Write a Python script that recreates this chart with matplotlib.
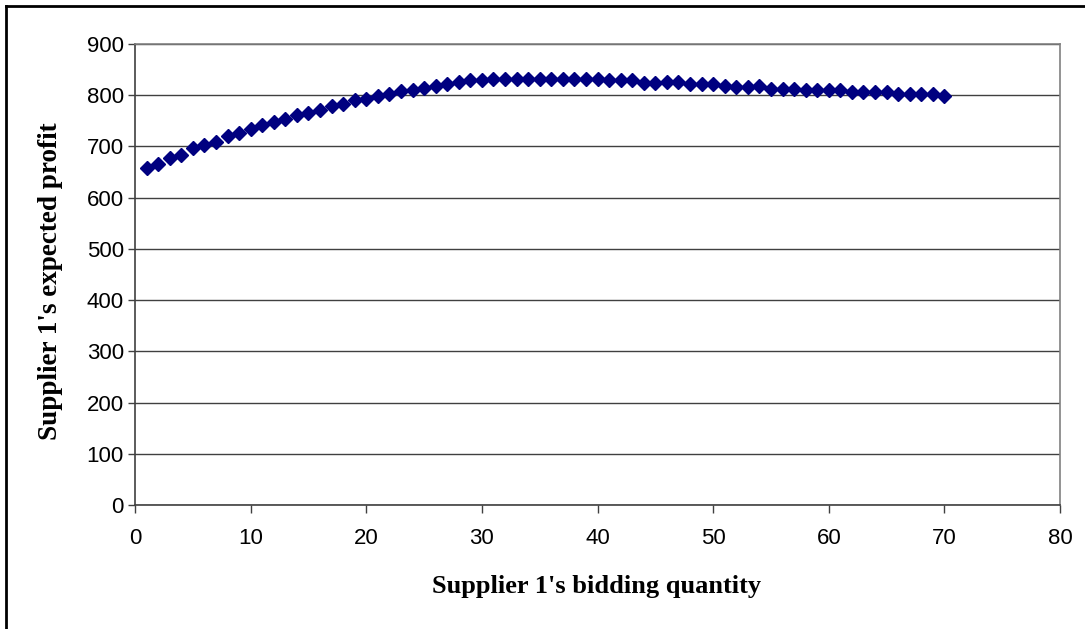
import matplotlib
matplotlib.use("Agg")
import matplotlib.pyplot as plt
from matplotlib.lines import Line2D

quantity = list(range(1, 71))
profit = [658, 666, 677, 684, 696, 702, 708, 720, 726, 734,
          741, 748, 754, 761, 765, 772, 778, 782, 790, 793,
          798, 803, 808, 810, 814, 818, 822, 826, 829, 829,
          832, 832, 832, 832, 832, 832, 832, 832, 832, 831,
          829, 829, 829, 824, 824, 825, 825, 821, 821, 821,
          818, 817, 817, 818, 813, 813, 813, 810, 810, 810,
          810, 806, 806, 806, 806, 803, 803, 803, 803, 798]
x_ticks = list(range(0, 81, 10))
y_ticks = list(range(0, 901, 100))

fig = plt.figure(figsize=(10.85, 6.29), dpi=100)
ax = fig.add_axes([135/1085, 1-505/629, 925/1085, 461/629])

ax.plot(quantity, profit, linestyle='none', marker='D', markersize=7.5,
        color='#000080', markeredgecolor='#000080', zorder=3)

ax.set_xlim(0, 80)
ax.set_ylim(0, 900)
ax.set_xticks(x_ticks)
ax.set_yticks(y_ticks)
ax.yaxis.grid(True, color='#404040', linewidth=1)
ax.set_axisbelow(True)

for side in ['left', 'bottom']:
    ax.spines[side].set_color('#404040')
    ax.spines[side].set_linewidth(1.2)
for side in ['top', 'right']:
    ax.spines[side].set_color('#808080')
    ax.spines[side].set_linewidth(1.2)

ax.tick_params(axis='both', direction='out', width=1, color='#404040', labelsize=16)
ax.tick_params(axis='y', length=5, pad=3)
ax.tick_params(axis='x', length=5.8, pad=11)
for lab in ax.get_xticklabels() + ax.get_yticklabels():
    lab.set_fontfamily('Liberation Sans')

fig.text(597/1085, 1-586/629, "Supplier 1's bidding quantity", ha='center', va='center',
         fontsize=19, fontweight='bold', family='Liberation Serif')
fig.text(51/1085, 1-281/629, "Supplier 1's expected profit", ha='center', va='center',
         rotation=90, fontsize=19.5, fontweight='bold', family='Liberation Serif')

# outer frame (top and left edges)
fig.add_artist(Line2D([6/1085, 6/1085], [0, 1-6/629], transform=fig.transFigure,
                      color='black', linewidth=2))
fig.add_artist(Line2D([6/1085, 1], [1-6/629, 1-6/629], transform=fig.transFigure,
                      color='black', linewidth=2))

fig.savefig('out.png', dpi=100)
